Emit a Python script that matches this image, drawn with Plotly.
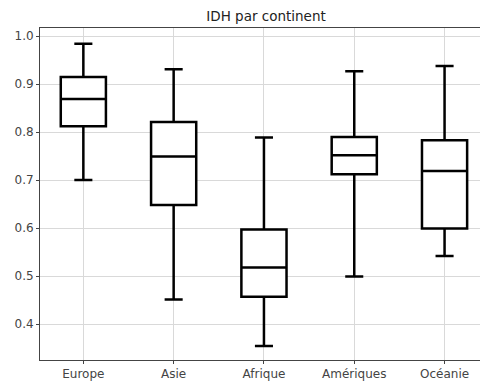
import plotly.graph_objects as go

continents = ["Europe", "Asie", "Afrique", "Amériques", "Océanie"]
lower_whisker = [0.700, 0.451, 0.354, 0.499, 0.542]
q1_values = [0.812, 0.648, 0.457, 0.712, 0.599]
medians = [0.869, 0.749, 0.518, 0.752, 0.719]
q3_values = [0.915, 0.821, 0.597, 0.790, 0.783]
upper_whisker = [0.984, 0.931, 0.789, 0.927, 0.938]
y_ticks = [0.4, 0.5, 0.6, 0.7, 0.8, 0.9, 1.0]
y_tick_labels = ["0.4", "0.5", "0.6", "0.7", "0.8", "0.9", "1.0"]

fig = go.Figure()
fig.add_trace(go.Box(
    x=continents,
    q1=q1_values,
    median=medians,
    q3=q3_values,
    lowerfence=lower_whisker,
    upperfence=upper_whisker,
    width=0.5,
    whiskerwidth=0.4,
    line=dict(color="black", width=2.5),
    fillcolor="white",
    boxpoints=False,
    showlegend=False,
    hoverinfo="skip",
))

fig.update_layout(
    width=480,
    height=377,
    margin=dict(l=32, r=1, t=20, b=25),
    paper_bgcolor="white",
    plot_bgcolor="white",
    font=dict(family="DejaVu Sans", size=12, color="#444444"),
    title=dict(text="IDH par continent", x=0.5375, xanchor="center", y=0.991, yanchor="top",
               font=dict(family="DejaVu Sans", size=13.5, color="#222222")),
    xaxis=dict(
        type="category",
        range=[-0.48, 4.47],
        automargin=False,
        showgrid=True, gridcolor="#d9d9d9", gridwidth=1,
        showline=True, linecolor="#444444", linewidth=1, mirror=True,
        ticks="outside", ticklen=3, tickcolor="#444444",
        tickfont=dict(size=12, color="#444444"),
    ),
    yaxis=dict(
        range=[0.325, 1.017],
        automargin=False,
        tickvals=y_ticks, ticktext=y_tick_labels,
        showgrid=True, gridcolor="#d9d9d9", gridwidth=1,
        showline=True, linecolor="#444444", linewidth=1, mirror=True,
        ticks="outside", ticklen=3, tickcolor="#444444",
        zeroline=False,
        tickfont=dict(size=12, color="#444444"),
    ),
)

fig.write_html("out.html")
